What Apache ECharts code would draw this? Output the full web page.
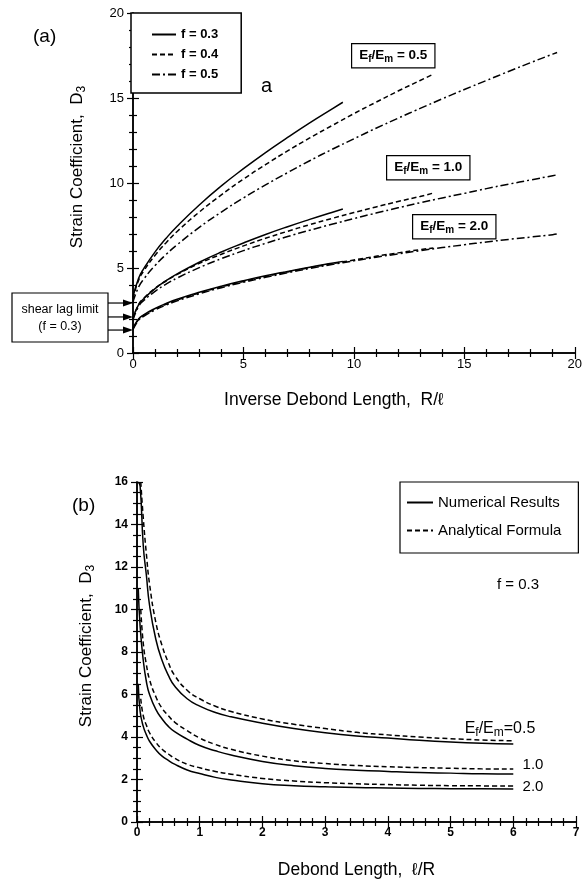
<!DOCTYPE html>
<html>
<head>
<meta charset="utf-8">
<script src="https://cdn.jsdelivr.net/npm/echarts@6/dist/echarts.min.js"></script>
<style>
  html, body { margin: 0; padding: 0; background: #fff; }
  #main { width: 585px; height: 884px; }
</style>
</head>
<body>
<div id="main"></div>
<script>
// ---- (a) D3 vs inverse debond length R/l ----
var xF03 = [0, 0.25, 0.5, 1, 1.5, 2, 3, 4, 5, 6, 7, 8, 9, 9.5];
var xF04 = [0, 0.25, 0.5, 1, 1.5, 2, 3, 4, 5, 6, 7, 8, 9, 10, 11, 12, 13, 13.6];
var xF05 = [0, 0.25, 0.5, 1, 1.5, 2, 3, 4, 5, 6, 7, 8, 9, 10, 11, 12, 13, 14, 15, 16, 17, 18, 19, 19.2];

var e05f03 = [3.3, 4.38, 4.99, 5.95, 6.75, 7.46, 8.71, 9.83, 10.84, 11.79, 12.68, 13.54, 14.35, 14.75];
var e05f04 = [3.2, 4.27, 4.85, 5.75, 6.49, 7.15, 8.29, 9.30, 10.23, 11.08, 11.89, 12.65, 13.37, 14.08, 14.75, 15.41, 16.03, 16.40];
var e05f05 = [3.0, 3.87, 4.37, 5.15, 5.80, 6.37, 7.39, 8.29, 9.12, 9.89, 10.61, 11.31, 11.97, 12.60, 13.22, 13.81, 14.39, 14.95, 15.50, 16.03, 16.56, 17.08, 17.58, 17.68];

var e10f03 = [2.05, 2.83, 3.21, 3.79, 4.25, 4.65, 5.34, 5.94, 6.47, 6.97, 7.43, 7.86, 8.27, 8.47];
var e10f04 = [2.0, 2.85, 3.24, 3.81, 4.25, 4.62, 5.27, 5.81, 6.30, 6.75, 7.16, 7.55, 7.91, 8.26, 8.59, 8.91, 9.21, 9.41];
var e10f05 = [1.95, 2.73, 3.10, 3.63, 4.05, 4.41, 5.02, 5.55, 6.02, 6.45, 6.85, 7.22, 7.57, 7.91, 8.23, 8.54, 8.84, 9.12, 9.39, 9.67, 9.93, 10.18, 10.43, 10.48];

var e20f03 = [1.45, 2.0, 2.26, 2.62, 2.91, 3.16, 3.57, 3.93, 4.25, 4.54, 4.8, 5.05, 5.28, 5.39];
var e20f04 = [1.42, 1.97, 2.22, 2.58, 2.87, 3.12, 3.53, 3.89, 4.21, 4.5, 4.77, 5.02, 5.25, 5.47, 5.69, 5.89, 6.08, 6.18];
var e20f05 = [1.38, 1.92, 2.17, 2.53, 2.82, 3.07, 3.48, 3.84, 4.16, 4.45, 4.72, 4.97, 5.2, 5.42, 5.63, 5.83, 6.02, 6.2, 6.37, 6.53, 6.68, 6.82, 6.96, 7.0];

var shearLagLimits = [2.94, 2.12, 1.35];
var topLegend = ['f = 0.3', 'f = 0.4', 'f = 0.5'];

// ---- (b) D3 vs debond length l/R, f = 0.3 ----
var xNum = [0.02, 0.05, 0.1, 0.15, 0.2, 0.3, 0.4, 0.5, 0.6, 0.8, 1.0, 1.25, 1.5, 2, 2.5, 3, 3.5, 4, 4.5, 5, 5.5, 6];
var xAna = [0.06, 0.1, 0.15, 0.2, 0.3, 0.4, 0.5, 0.6, 0.8, 1.0, 1.25, 1.5, 2, 2.5, 3, 3.5, 4, 4.5, 5, 5.5, 6];

var num05 = [16.0, 15.8, 13.0, 11.6, 10.2, 8.6, 7.6, 6.9, 6.4, 5.8, 5.45, 5.15, 4.95, 4.65, 4.4, 4.2, 4.05, 3.95, 3.85, 3.77, 3.71, 3.67];
var ana05 = [16.0, 14.3, 12.6, 11.2, 9.4, 8.3, 7.5, 6.9, 6.2, 5.8, 5.45, 5.2, 4.85, 4.6, 4.4, 4.22, 4.1, 4.0, 3.92, 3.86, 3.82];
var num10 = [11.0, 9.2, 7.6, 6.6, 6.0, 5.3, 4.85, 4.5, 4.25, 3.9, 3.6, 3.35, 3.15, 2.85, 2.65, 2.52, 2.44, 2.38, 2.33, 2.3, 2.27, 2.26];
var ana10 = [10.0, 8.4, 7.4, 6.7, 5.9, 5.35, 5.0, 4.7, 4.3, 3.95, 3.65, 3.42, 3.1, 2.88, 2.75, 2.66, 2.6, 2.56, 2.53, 2.5, 2.49];
var num20 = [6.5, 5.2, 4.5, 4.1, 3.8, 3.4, 3.1, 2.9, 2.72, 2.45, 2.28, 2.1, 1.98, 1.8, 1.71, 1.66, 1.62, 1.6, 1.58, 1.57, 1.56, 1.55];
var ana20 = [5.8, 5.0, 4.55, 4.2, 3.75, 3.42, 3.2, 3.0, 2.72, 2.55, 2.38, 2.25, 2.05, 1.93, 1.85, 1.8, 1.76, 1.73, 1.71, 1.7, 1.69];
var botLegend = ['Numerical Results', 'Analytical Formula'];

var FONT = 'Liberation Sans, Arial, sans-serif';
var DASH = [5, 3];
var DASHDOT = [8, 3, 2, 3];

function pairs(xs, ys) {
    return xs.map(function (x, i) { return [x, ys[i]]; });
}

function curve(name, xs, ys, type, idx) {
    return {
        name: name,
        type: 'line',
        xAxisIndex: idx,
        yAxisIndex: idx,
        data: pairs(xs, ys),
        smooth: true,
        symbol: 'none',
        lineStyle: { color: '#000', width: 1.5, type: type },
        itemStyle: { color: '#000' },
        silent: true
    };
}

function axisX(grid, pos, min, max, interval, minor, showLabel, name) {
    return {
        type: 'value', gridIndex: grid, position: pos, min: min, max: max, interval: interval,
        axisLine: { lineStyle: { color: '#000', width: 1.5 } },
        axisTick: { inside: true, length: 6, lineStyle: { color: '#000', width: 1.2 } },
        minorTick: { show: true, splitNumber: minor, length: 4, lineStyle: { color: '#000', width: 1.2 } },
        axisLabel: { show: showLabel, color: '#000', fontSize: 13, fontFamily: FONT, margin: 5 },
        splitLine: { show: false },
        name: name || '',
        nameLocation: 'middle',
        nameGap: 38,
        nameTextStyle: { color: '#000', fontSize: 17.5, fontFamily: FONT }
    };
}

function axisY(grid, pos, min, max, interval, minor, showLabel) {
    return {
        type: 'value', gridIndex: grid, position: pos, min: min, max: max, interval: interval,
        axisLine: { lineStyle: { color: '#000', width: 1.5 } },
        axisTick: { inside: true, length: 6, lineStyle: { color: '#000', width: 1.2 } },
        minorTick: { show: true, splitNumber: minor, length: 4, lineStyle: { color: '#000', width: 1.2 } },
        axisLabel: { show: showLabel, color: '#000', fontSize: 13, fontFamily: FONT, margin: 9 },
        splitLine: { show: false }
    };
}

var chart = echarts.init(document.getElementById('main'));

var xs = [
    axisX(0, 'bottom', 0, 20, 5, 5, true, 'Inverse Debond Length,  R/\u2113'),
    axisX(0, 'top', 0, 20, 5, 5, false),
    axisX(1, 'bottom', 0, 7, 1, 5, true, 'Debond Length,  \u2113/R'),
    axisX(1, 'top', 0, 7, 1, 5, false)
];
xs[0].nameTextStyle.padding = [0, 40, 0, 0];
xs[2].nameGap = 39;
xs[2].axisLabel.fontWeight = 'bold';
xs[2].axisLabel.fontSize = 12;

var ys = [
    axisY(0, 'left', 0, 20, 5, 5, true),
    axisY(0, 'right', 0, 20, 5, 5, false),
    axisY(1, 'left', 0, 16, 2, 4, true),
    axisY(1, 'right', 0, 16, 2, 4, false)
];
ys[2].axisLabel.fontWeight = 'bold';
ys[2].axisLabel.fontSize = 12;
ys[0].name = 'Strain Coefficient,  D{s|3}';
ys[2].name = 'Strain Coefficient,  D{s|3}';
[0, 2].forEach(function (i) {
    ys[i].nameLocation = 'middle';
    ys[i].nameRotate = 90;
    ys[i].nameGap = i === 0 ? 45 : 40;
    ys[i].nameTextStyle = {
        color: '#000', fontSize: 17, fontFamily: FONT,
        padding: [0, 0, 0, i === 0 ? 32 : 12],
        rich: { s: { fontSize: 12, fontFamily: FONT, padding: [9, 0, 0, 0] } }
    };
});

// series: top group on axes 0, bottom group on axes 2
var series = [
    curve('f = 0.3', xF03, e05f03, 'solid', 0),
    curve('f = 0.4', xF04, e05f04, DASH, 0),
    curve('f = 0.5', xF05, e05f05, DASHDOT, 0),
    curve('f = 0.3', xF03, e10f03, 'solid', 0),
    curve('f = 0.4', xF04, e10f04, DASH, 0),
    curve('f = 0.5', xF05, e10f05, DASHDOT, 0),
    curve('f = 0.3', xF03, e20f03, 'solid', 0),
    curve('f = 0.4', xF04, e20f04, DASH, 0),
    curve('f = 0.5', xF05, e20f05, DASHDOT, 0),
    curve('Numerical Results', xNum, num05, 'solid', 2),
    curve('Analytical Formula', xAna, ana05, DASH, 2),
    curve('Numerical Results', xNum, num10, 'solid', 2),
    curve('Analytical Formula', xAna, ana10, DASH, 2),
    curve('Numerical Results', xNum, num20, 'solid', 2),
    curve('Analytical Formula', xAna, ana20, DASH, 2)
];

var ratioRich = {
    a: { fontSize: 13.5, fontWeight: 'bold', fontFamily: FONT, lineHeight: 17, verticalAlign: 'middle' },
    s: { fontSize: 10, fontWeight: 'bold', fontFamily: FONT, lineHeight: 17, verticalAlign: 'bottom' }
};
function ratioBox(left, top, val) {
    return {
        type: 'text', left: left, top: top,
        style: {
            text: '{a|E}{s|f}{a|/E}{s|m}{a| = ' + val + '}',
            rich: ratioRich,
            fill: '#000',
            backgroundColor: '#fff',
            borderColor: '#000', borderWidth: 1.2,
            padding: [3, 7, 3, 7]
        }
    };
}

var option = {
    animation: false,
    backgroundColor: '#fff',
    grid: [
        { left: 133, top: 13, width: 445, height: 340 },
        { left: 137, top: 482, width: 439, height: 340 }
    ],
    xAxis: xs,
    yAxis: ys,
    legend: [
        {
            data: topLegend, orient: 'vertical', left: 131, top: 13,
            backgroundColor: '#fff', borderColor: '#000', borderWidth: 1.5,
            padding: [15, 23, 12, 20], itemGap: 7, itemWidth: 24, itemHeight: 14,
            itemStyle: { opacity: 0 },
            textStyle: { color: '#000', fontSize: 13, fontWeight: 'bold', fontFamily: FONT },
            selectedMode: false
        },
        {
            data: botLegend, orient: 'vertical', left: 400, top: 482,
            backgroundColor: '#fff', borderColor: '#000', borderWidth: 1.2,
            padding: [13, 17, 15, 6], itemGap: 13, itemWidth: 26, itemHeight: 16,
            itemStyle: { opacity: 0 },
            textStyle: { color: '#000', fontSize: 15, fontFamily: FONT },
            selectedMode: false
        }
    ],
    series: series,
    graphic: [
        { type: 'text', left: 33, top: 27, style: { text: '(a)', fontSize: 19, fontFamily: FONT, fill: '#000' } },
        { type: 'text', left: 261, top: 76, style: { text: 'a', fontSize: 20, fontFamily: FONT, fill: '#000' } },
        ratioBox(351, 43, '0.5'),
        ratioBox(386, 155, '1.0'),
        ratioBox(412, 214, '2.0'),
        {
            type: 'rect', shape: { x: 12, y: 293, width: 96, height: 49 },
            style: { fill: '#fff', stroke: '#000', lineWidth: 1.2 }
        },
        { type: 'text', x: 60, y: 310, style: { text: 'shear lag limit', fontSize: 12.5, fontFamily: FONT, fill: '#000', align: 'center', verticalAlign: 'middle' } },
        { type: 'text', x: 60, y: 327, style: { text: '(f = 0.3)', fontSize: 12.5, fontFamily: FONT, fill: '#000', align: 'center', verticalAlign: 'middle' } },
        { type: 'text', left: 72, top: 496, style: { text: '(b)', fontSize: 19, fontFamily: FONT, fill: '#000' } },
        { type: 'text', x: 518, y: 585, style: { text: 'f = 0.3', fontSize: 15, fontFamily: FONT, fill: '#000', align: 'center', verticalAlign: 'middle' } },
        {
            type: 'text', x: 500, y: 729,
            style: {
                text: '{a|E}{s|f}{a|/E}{s|m}{a|=0.5}', align: 'center', verticalAlign: 'middle', fill: '#000',
                rich: {
                    a: { fontSize: 16, fontFamily: FONT, lineHeight: 20, verticalAlign: 'middle' },
                    s: { fontSize: 12, fontFamily: FONT, lineHeight: 20, verticalAlign: 'bottom' }
                }
            }
        },
        { type: 'text', x: 533, y: 765, style: { text: '1.0', fontSize: 15, fontFamily: FONT, fill: '#000', align: 'center', verticalAlign: 'middle' } },
        { type: 'text', x: 533, y: 787, style: { text: '2.0', fontSize: 15, fontFamily: FONT, fill: '#000', align: 'center', verticalAlign: 'middle' } }
    ]
};

chart.setOption(option);

// shear lag limit arrows, placed through the axis scale
var arrows = [];
shearLagLimits.forEach(function (v) {
    var p = chart.convertToPixel({ xAxisIndex: 0, yAxisIndex: 0 }, [0, v]);
    arrows.push({
        type: 'line', shape: { x1: 108, y1: p[1], x2: p[0] - 8, y2: p[1] },
        style: { stroke: '#000', lineWidth: 1.2 }
    });
    arrows.push({
        type: 'polygon', shape: { points: [[p[0] - 10, p[1] - 3.5], [p[0], p[1]], [p[0] - 10, p[1] + 3.5]] },
        style: { fill: '#000' }
    });
});
chart.setOption({ graphic: option.graphic.concat(arrows) });
</script>
</body>
</html>
